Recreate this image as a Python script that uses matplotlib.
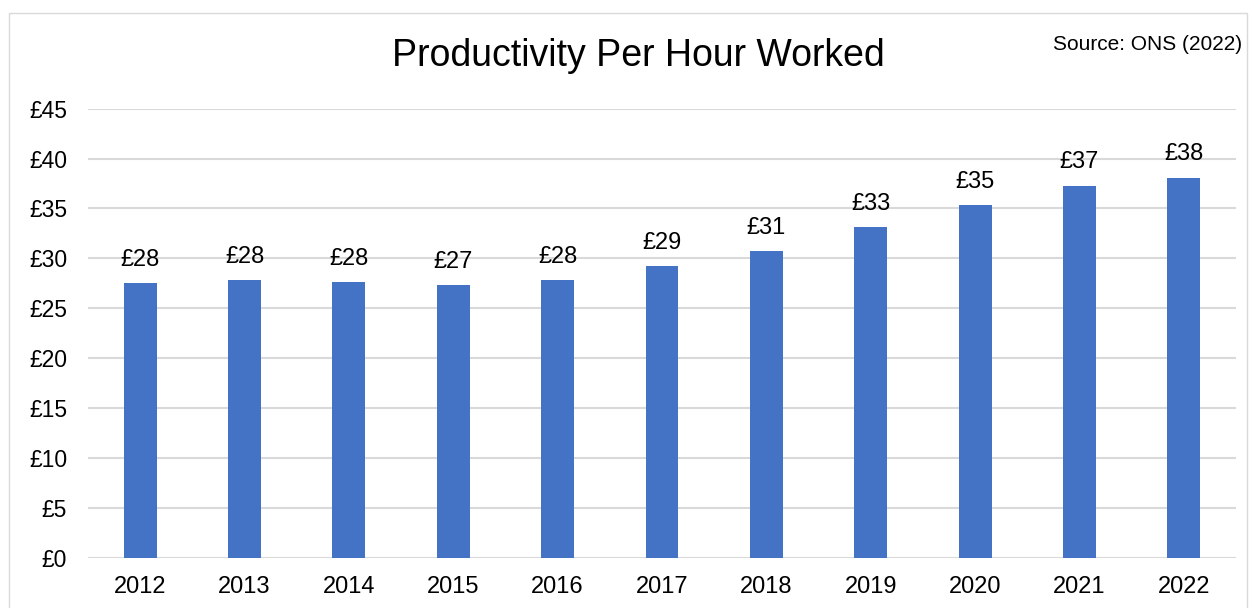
import matplotlib
matplotlib.use("Agg")
import matplotlib.pyplot as plt
from matplotlib.patches import Rectangle

years = ["2012", "2013", "2014", "2015", "2016", "2017", "2018", "2019", "2020", "2021", "2022"]
values = [27.5, 27.8, 27.6, 27.3, 27.8, 29.2, 30.7, 33.1, 35.3, 37.3, 38.1]
yticks = [0, 5, 10, 15, 20, 25, 30, 35, 40, 45]

plt.rcParams['font.family'] = ['Liberation Sans', 'DejaVu Sans']

fig = plt.figure(figsize=(12.52, 6.08), dpi=100)
fig.patches.append(Rectangle((9/1252, -0.01), (1247-9)/1252, (608-12.7)/608 + 0.01,
                             transform=fig.transFigure, fill=False,
                             edgecolor='#d9d9d9', linewidth=1.0))
ax = fig.add_axes([88/1252, (608-557.7)/608, (1236-88)/1252, (557.7-108.7)/608])

x = list(range(len(years)))
ax.bar(x, values, width=0.316, color='#4472C4', zorder=3)
ax.set_xlim(-0.5, len(years) - 0.5)
ax.set_ylim(0, 45)
ax.set_yticks(yticks)
ax.set_yticklabels([f"£{v}" for v in yticks], fontsize=16.5)
ax.set_xticks(x)
ax.set_xticklabels(years, fontsize=17)
ax.tick_params(axis='both', length=0)
ax.tick_params(axis='y', pad=15)
ax.tick_params(axis='x', pad=13)
ax.grid(axis='y', color='#d9d9d9', linewidth=1.5, zorder=0)
for s in ax.spines.values():
    s.set_visible(False)

for xi, v in zip(x, values):
    ax.annotate(f"£{round(v)}", (xi, v), xytext=(0, 12.5), textcoords='offset points',
                ha='center', va='baseline', fontsize=17)

fig.text(638/1252, 1 - 56/608, "Productivity Per Hour Worked", ha='center', va='center', fontsize=27)
fig.text(1242/1252, 1 - 45/608, "Source: ONS (2022)", ha='right', va='center', fontsize=15)

fig.savefig("out.png", dpi=100)
